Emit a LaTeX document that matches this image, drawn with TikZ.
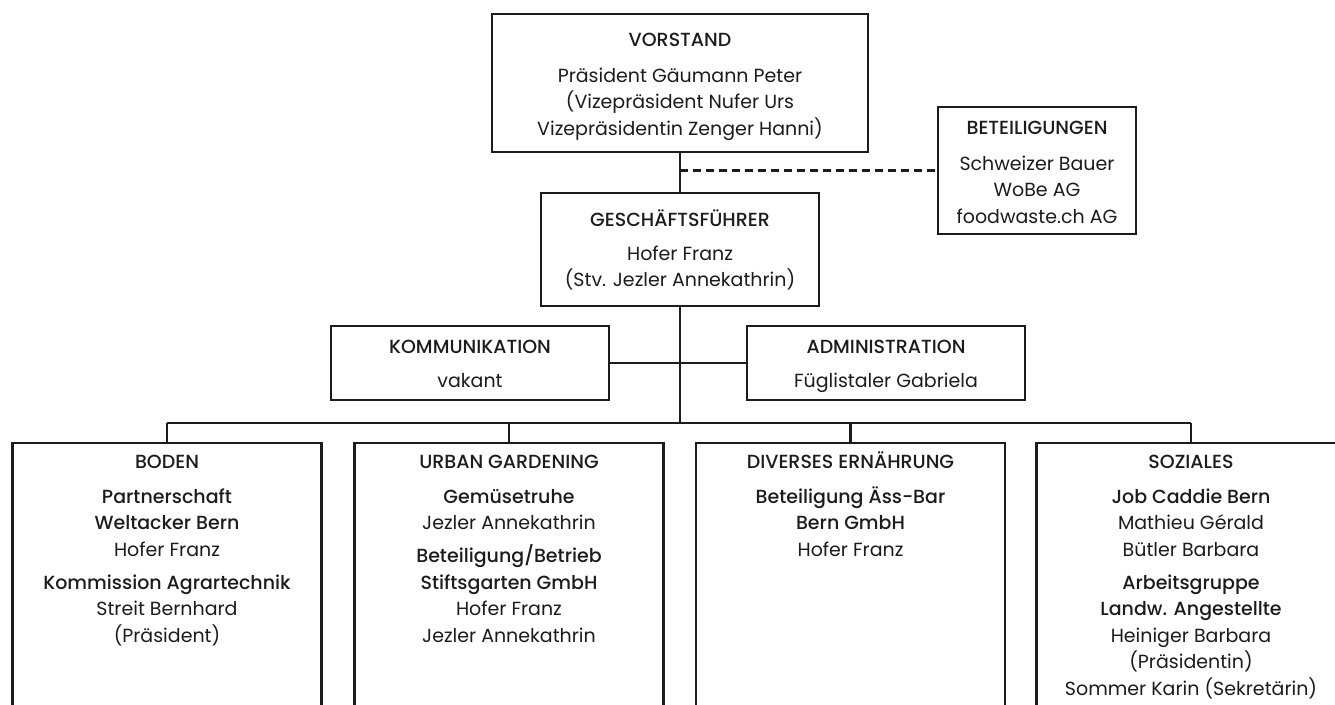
\documentclass[tikz,border=0pt]{standalone}
\usepackage{fontspec}
\setmainfont{Poppins}[BoldFont={Poppins Medium}]
\definecolor{ink}{HTML}{1C1C1C}
\tikzset{
  box/.style={draw=ink, line width=2.6pt, rectangle, inner sep=0pt},
  txt/.style={anchor=north, align=center, inner sep=0pt, text=ink,
    font=\fontsize{19}{26.5}\selectfont},
  conn/.style={draw=ink, line width=2.6pt},
  dconn/.style={draw=ink, line width=2.6pt, dash pattern=on 8pt off 5pt},
}
\newcommand{\fs}{\rule{0pt}{20pt}}
\begin{document}
\begin{tikzpicture}[x=1pt,y=-1pt]
\clip (0,0) rectangle (1335,704);
\fill[white] (0,0) rectangle (1335,704);
% boxes
\node[box, minimum width=376pt, minimum height=138pt] (vor) at (680,83) {};
\node[box, minimum width=278pt, minimum height=113pt] (gf) at (680,249.5) {};
\node[box, minimum width=198pt, minimum height=127pt] (bet) at (1037,170.5) {};
\node[box, minimum width=278pt, minimum height=74pt] (komm) at (470,363) {};
\node[box, minimum width=278pt, minimum height=74pt] (admin) at (886,363) {};
\node[box, minimum width=309pt, minimum height=330pt] (boden) at (167,608) {};
\node[box, minimum width=309pt, minimum height=330pt] (urban) at (509,608) {};
\node[box, minimum width=309pt, minimum height=330pt] (div) at (850.5,608) {};
\node[box, minimum width=309pt, minimum height=330pt] (soz) at (1191,608) {};
% texts
\node[txt] (vort) at (680,26) {\fs\textbf{VORSTAND}\\[9.5pt]Präsident Gäumann Peter\\(Vizepräsident Nufer Urs\\Vizepräsidentin Zenger Hanni)};
\node[txt] (gft) at (680,206) {\fs\textbf{GESCHÄFTSFÜHRER}\\[7.5pt]Hofer Franz\\(Stv. Jezler Annekathrin)};
\node[txt] (bett) at (1037,114) {\fs\textbf{BETEILIGUNGEN}\\[9.5pt]Schweizer Bauer\\WoBe AG\\foodwaste.ch AG};
\node[txt] (kommt) at (470,333) {\fs\textbf{KOMMUNIKATION}\\[7.5pt]vakant};
\node[txt] (admint) at (886,333) {\fs\textbf{ADMINISTRATION}\\[7.5pt]Füglistaler Gabriela};
\node[txt] (bodent) at (167,448) {\fs\textbf{BODEN}\\[8.5pt]\textbf{Partnerschaft}\\\textbf{Weltacker Bern}\\Hofer Franz\\[6.5pt]\textbf{Kommission Agrartechnik}\\Streit Bernhard\\(Präsident)};
\node[txt] (urbant) at (509,448) {\fs\textbf{URBAN GARDENING}\\[8.5pt]\textbf{Gemüsetruhe}\\Jezler Annekathrin\\[6.5pt]\textbf{Beteiligung/Betrieb}\\\textbf{Stiftsgarten GmbH}\\Hofer Franz\\Jezler Annekathrin};
\node[txt] (divt) at (850.5,448) {\fs\textbf{DIVERSES ERNÄHRUNG}\\[8.5pt]\textbf{Beteiligung Äss-Bar}\\\textbf{Bern GmbH}\\Hofer Franz};
\node[txt] (sozt) at (1191,448) {\fs\textbf{SOZIALES}\\[8.5pt]\textbf{Job Caddie Bern}\\Mathieu Gérald\\Bütler Barbara\\[6.5pt]\textbf{Arbeitsgruppe}\\\textbf{Landw. Angestellte}\\Heiniger Barbara\\(Präsidentin)\\Sommer Karin (Sekretärin)};
% connectors
\coordinate (bar) at (680,423);
\draw[conn] (vor.south) -- (gf.north);
\draw[dconn] (vor.south |- bet.west) -- (bet.west);
\draw[conn] (komm.east) -- (admin.west);
\draw[conn] (gf.south) -- (bar);
\draw[conn] (boden.north |- bar) -- (soz.north |- bar);
\draw[conn] (boden.north |- bar) -- (boden.north);
\draw[conn] (urban.north |- bar) -- (urban.north);
\draw[conn] (div.north |- bar) -- (div.north);
\draw[conn] (soz.north |- bar) -- (soz.north);
\end{tikzpicture}
\end{document}
